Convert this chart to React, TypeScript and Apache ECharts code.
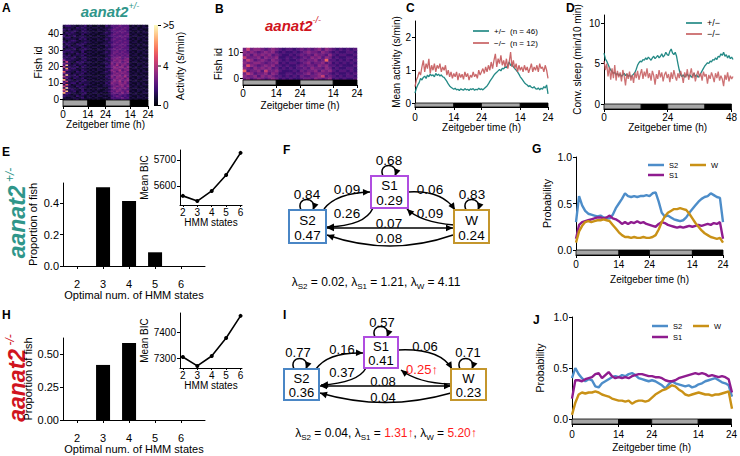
import React, { useEffect, useRef } from "react";
import * as echarts from "echarts";

const FONT = '"Liberation Sans", Arial, Helvetica, sans-serif';
const BLACK = "#000";
const TEAL = "#17837e";
const RED = "#c4585a";
const C_S2 = "#4d8dc9";
const C_S1 = "#8f1c8f";
const C_W = "#c99116";

// light (0) / dark (1) periods over two days, in Zeitgeber hours
const lightDark = [
  [0, 14, 0],
  [14, 24, 1],
  [24, 38, 0],
  [38, 48, 1],
];
const ztTicks = [0, 14, 24, 38, 48];
const ztTicksD = [0, 24, 48];

// per-fish activity, 1.5 h bins (hex digit = activity level 0..15), fish 0 first
const heatHet = [
  "12212312211212111234334432121121",
  "21122123122121122143445341212212",
  "32221322121212211234543432112121",
  "23212213212112122244354431221211",
  "c3322122311221211245546452121122",
  "5d223123222121122354655461212121",
  "a2232213121212112245564542112212",
  "2e322132212112211356455641221121",
  "83221323211221122245656462121211",
  "2a312221322112122355466551212122",
  "52233132221211213265565642112121",
  "38222313222122122356574651221211",
  "c2321222311211212246565562121122",
  "25213223122112122355656461212121",
  "73322312211221213264665742112212",
  "2d223132222112112356564651221121",
  "53312223121211222245656552121211",
  "a2221322312121123256465641212122",
  "35322213221212212365574562112121",
  "2c233122212112122246655651221211",
  "72322313221221213356566462121122",
  "3d223122312112112355746551212121",
  "53312232121211223264655642112212",
  "28221323222121122255564561221121",
  "63322122311212212346565652121211",
  "32232213222112123255654561212122",
  "23223122311221212245564542112121",
  "32312223122112112354545451221211",
  "21221322311211222245454542121122",
  "32232213122121123245545441212121",
  "23322123211212212244544532112212",
  "12223122322112122345454441221121",
  "31232213221221212234545442121211",
  "22312232122112113244454531212122",
  "13221323211211222245445442112121",
  "32322122322121122334544541221211",
  "21233212221212212244454442121122",
  "12222132312112123245444531212121",
  "23312223221221212234545442112212",
  "31223122212112112344454541221121",
  "22322213121211222245444452121211",
  "13232122322121123234545441212122",
  "21223213221212212244454532112121",
  "32312222312112122345445441221211",
  "12221323221221212234544542121122",
  "23322122312112113244454441212121",
];
const heatMut = [
  "56456545653434334554654563434334",
  "65564656544343435445568454343443",
  "58645564653344344564565543433434",
  "a4556485564333435455646564344343",
  "65465656453434344546554653433443",
  "59654565644343345455465644343334",
  "65566545563434434564556453434343",
  "58645654654343345455645a44343434",
  "85556465563343434546564653433443",
  "56465656454334345454655464344334",
  "65654565643433434565546543433443",
  "58566545654344345454564654343434",
];

// mean activity (s/min), 0.5 h steps from ZT0
const actHet = [
  0.3, 0.45, 0.55, 0.62, 0.75, 0.7, 0.78, 0.82, 0.75, 0.85,
  0.8, 0.88, 0.83, 0.86, 0.8, 0.9, 0.84, 0.88, 0.82, 0.86,
  0.8, 0.78, 0.72, 0.66, 0.58, 0.52, 0.48, 0.45, 0.42, 0.45,
  0.4, 0.42, 0.38, 0.43, 0.41, 0.39, 0.44, 0.4, 0.42, 0.38,
  0.43, 0.41, 0.44, 0.39, 0.42, 0.4, 0.45, 0.41, 0.43, 0.4,
  0.44, 0.48, 0.52, 0.58, 0.66, 0.72, 0.78, 0.85, 0.9, 0.94,
  0.98, 1.02, 0.98, 1.06, 1.04, 1.1, 1.08, 1.16, 1.25, 1.14,
  1.18, 1.1, 1.05, 1.0, 0.95, 0.88, 0.8, 0.74, 0.68, 0.62,
  0.58, 0.55, 0.5, 0.53, 0.48, 0.46, 0.5, 0.44, 0.42, 0.46,
  0.4, 0.45, 0.42, 0.5, 0.46, 0.55, 0.28,
];
const actMut = [
  0.5, 0.7, 0.8, 0.95, 0.85, 1.1, 1.3, 0.95, 1.2, 1.05,
  1.35, 0.9, 1.15, 1.0, 1.2, 0.95, 1.15, 1.05, 1.2, 0.95,
  1.1, 1.0, 1.15, 0.85, 1.0, 0.8, 0.95, 0.75, 0.9, 0.8,
  0.95, 0.7, 0.9, 0.78, 0.88, 0.72, 0.95, 0.8, 0.9, 0.7,
  0.85, 0.78, 0.95, 0.8, 0.88, 0.75, 1.0, 0.85, 0.95, 1.05,
  0.9, 1.1, 0.95, 1.15, 1.0, 1.25, 1.05, 1.3, 1.5, 1.1,
  1.35, 1.2, 1.45, 1.15, 1.3, 1.1, 1.35, 1.05, 1.25, 1.55,
  1.1, 1.3, 1.05, 1.2, 0.95, 1.15, 1.0, 1.1, 0.95, 1.15,
  1.0, 1.1, 0.92, 1.05, 1.2, 0.95, 1.1, 1.0, 1.15, 0.95,
  1.2, 1.05, 1.1, 0.95, 1.15, 1.0, 0.75,
];

// conventional sleep (min/10 min), 0.5 h steps from ZT0
const sleepHet = [
  6.3, 5.6, 5.3, 4.9, 4.5, 4.2, 4.0, 3.8, 3.9, 3.6,
  3.8, 3.5, 3.7, 3.4, 3.6, 3.8, 3.5, 3.7, 3.4, 3.6,
  3.3, 3.5, 3.7, 3.9, 4.3, 4.8, 5.1, 5.3, 5.2, 5.5,
  5.4, 5.7, 5.5, 5.8, 5.6, 5.4, 5.7, 5.9, 5.6, 5.8,
  6.0, 5.7, 5.9, 6.2, 5.8, 6.0, 6.4, 6.1, 6.0, 6.5,
  6.8, 6.3, 6.1, 6.4, 5.9, 5.0, 4.2, 3.6, 3.4, 3.6,
  3.3, 3.5, 3.7, 3.4, 3.6, 3.3, 3.5, 3.8, 3.4, 3.6,
  3.3, 3.5, 3.8, 4.1, 4.4, 4.7, 4.9, 5.1, 5.0, 5.3,
  5.2, 5.5, 5.4, 5.7, 5.5, 5.9, 5.8, 6.2, 6.0, 6.4,
  5.9, 6.1, 5.7, 6.0, 5.6, 5.8, 5.5,
];
const sleepMut = [
  5.3, 4.2, 5.0, 3.4, 4.6, 3.0, 4.4, 3.2, 4.8, 2.9,
  4.1, 3.3, 3.9, 2.8, 4.2, 3.5, 2.3, 3.8, 3.1, 4.0,
  2.9, 3.6, 2.6, 3.9, 3.2, 4.1, 3.0, 3.7, 4.3, 3.1,
  4.0, 3.4, 4.4, 3.2, 3.8, 2.9, 4.1, 3.5, 2.4, 3.7,
  3.1, 4.2, 3.3, 3.9, 2.8, 3.6, 4.0, 3.2, 3.7, 2.7,
  3.9, 3.1, 4.2, 3.4, 2.9, 3.8, 3.2, 4.1, 3.5, 2.6,
  3.9, 3.3, 4.3, 3.0, 3.7, 4.4, 3.2, 3.9, 2.8, 3.6,
  4.1, 3.3, 3.8, 2.9, 4.0, 3.4, 3.7, 2.5, 3.6, 3.1,
  3.9, 3.4, 2.7, 3.8, 3.2, 4.0, 2.9, 3.5, 3.1, 2.2,
  3.6, 3.0, 3.9, 2.8, 3.5, 3.1, 3.4,
];

// optimal number of HMM states and mean BIC
const hmmStates = [2, 3, 4, 5, 6];
const propHet = [0, 0.5, 0.413, 0.087, 0];
const propMut = [0, 0.417, 0.583, 0, 0];
const bicHet = [5562, 5542, 5581, 5642, 5727];
const bicMut = [7304, 7270, 7308, 7377, 7462];

// state probabilities, hourly from ZT0
const pS2Het = [
  0.3, 0.58, 0.48, 0.42, 0.39, 0.38, 0.37, 0.36, 0.37, 0.35,
  0.34, 0.34, 0.38, 0.45, 0.5, 0.55, 0.61, 0.58, 0.57, 0.58,
  0.57, 0.58, 0.58, 0.59, 0.58, 0.61, 0.62, 0.52, 0.4, 0.36,
  0.37, 0.35, 0.33, 0.32, 0.31, 0.32, 0.35, 0.4, 0.44, 0.48,
  0.52, 0.55, 0.57, 0.58, 0.61, 0.59, 0.57, 0.56, 0.3,
];
const pS1Het = [
  0.12, 0.27, 0.3, 0.31, 0.32, 0.33, 0.34, 0.35, 0.35, 0.34,
  0.35, 0.37, 0.34, 0.33, 0.31, 0.28, 0.3, 0.28, 0.3, 0.29,
  0.31, 0.29, 0.3, 0.28, 0.27, 0.26, 0.25, 0.28, 0.3, 0.29,
  0.27, 0.26, 0.25, 0.24, 0.25, 0.24, 0.25, 0.26, 0.25, 0.26,
  0.27, 0.26, 0.27, 0.28, 0.27, 0.29, 0.28, 0.3, 0.12,
];
const pWHet = [
  0.08, 0.2, 0.26, 0.3, 0.31, 0.3, 0.31, 0.32, 0.32, 0.33,
  0.32, 0.31, 0.27, 0.23, 0.19, 0.16, 0.14, 0.14, 0.13, 0.14,
  0.13, 0.13, 0.14, 0.13, 0.13, 0.14, 0.16, 0.22, 0.3, 0.36,
  0.4, 0.42, 0.44, 0.44, 0.45, 0.44, 0.43, 0.39, 0.34, 0.29,
  0.25, 0.21, 0.18, 0.16, 0.14, 0.13, 0.12, 0.13, 0.08,
];
const pS2Mut = [
  0.4, 0.5, 0.44, 0.4, 0.37, 0.39, 0.38, 0.32, 0.31, 0.35,
  0.37, 0.39, 0.41, 0.42, 0.41, 0.43, 0.42, 0.44, 0.45, 0.43,
  0.4, 0.39, 0.38, 0.37, 0.38, 0.37, 0.35, 0.33, 0.3, 0.34,
  0.37, 0.35, 0.34, 0.33, 0.32, 0.33, 0.31, 0.32, 0.34, 0.35,
  0.37, 0.38, 0.39, 0.4, 0.38, 0.36, 0.35, 0.33, 0.22,
];
const pS1Mut = [
  0.2, 0.38, 0.38, 0.37, 0.39, 0.4, 0.41, 0.44, 0.45, 0.4,
  0.43, 0.46, 0.42, 0.4, 0.41, 0.4, 0.41, 0.4, 0.42, 0.43,
  0.44, 0.44, 0.43, 0.42, 0.42, 0.41, 0.41, 0.4, 0.38, 0.37,
  0.37, 0.38, 0.4, 0.41, 0.42, 0.43, 0.44, 0.45, 0.44, 0.45,
  0.44, 0.42, 0.43, 0.42, 0.41, 0.42, 0.41, 0.39, 0.26,
];
const pWMut = [
  0.04, 0.16, 0.24, 0.26, 0.25, 0.26, 0.26, 0.27, 0.26, 0.24,
  0.23, 0.22, 0.2, 0.19, 0.18, 0.18, 0.17, 0.18, 0.15, 0.17,
  0.18, 0.18, 0.17, 0.18, 0.21, 0.24, 0.26, 0.28, 0.29, 0.31,
  0.33, 0.32, 0.29, 0.27, 0.24, 0.23, 0.24, 0.25, 0.26, 0.25,
  0.24, 0.24, 0.23, 0.24, 0.24, 0.25, 0.26, 0.27, 0.1,
];

const MAGMA = [
  "#000004", "#140e36", "#3b0f70", "#641a80", "#8c2981", "#b73779",
  "#de4968", "#f7705c", "#fe9f6d", "#fecf92", "#fcfdbf",
];

const HEAT_COLS = 32;

function heatCells(rows: string[]) {
  const out: number[][] = [];
  rows.forEach((row, y) => {
    for (let x = 0; x < HEAT_COLS; x++) out.push([x, y, parseInt(row[x] || "0", 16)]);
  });
  return out;
}

const series = (vals: number[], step: number) => vals.map((v, i) => [i * step, v]);

const txt = (fontSize = 10) => ({ color: BLACK, fontFamily: FONT, fontSize });

function timeX(gridIndex: number, ticks: number[], twoClock: boolean, margin: number, nameGap: number) {
  return {
    type: "value", gridIndex, min: 0, max: 48,
    splitLine: { show: false },
    axisLine: { show: true, lineStyle: { color: BLACK, width: 1 } },
    axisTick: { show: true, length: 3, customValues: ticks, lineStyle: { color: BLACK } },
    axisLabel: {
      customValues: ticks, margin, ...txt(10),
      formatter: (v: number) => String(twoClock && v > 24 ? v - 24 : v),
    },
    name: "Zeitgeber time (h)", nameLocation: "middle", nameGap, nameTextStyle: txt(10),
  };
}

function valAxis(gridIndex: number, min: number, max: number, ticks: number[], fmt: (v: number) => string,
  name: string, nameGap: number, fontSize = 10, margin = 4, tickLen = 3) {
  return {
    type: "value", gridIndex, min, max,
    splitLine: { show: false },
    axisLine: { show: true, lineStyle: { color: BLACK, width: 1 } },
    axisTick: { show: true, length: tickLen, customValues: ticks, lineStyle: { color: BLACK } },
    axisLabel: { customValues: ticks, formatter: fmt, margin, ...txt(fontSize) },
    name, nameLocation: "middle", nameGap, nameTextStyle: txt(fontSize),
  };
}

const hiddenX = (gridIndex: number) => ({ type: "value", gridIndex, min: 0, max: 48, show: false });
const hiddenY01 = (gridIndex: number) => ({ type: "value", gridIndex, min: 0, max: 1, show: false });

function fishY(gridIndex: number, n: number) {
  const every = (i: number) => i % 10 === 0;
  return {
    type: "category", gridIndex, data: Array.from({ length: n }, (_, i) => String(i)),
    axisLine: { show: false },
    axisTick: { show: true, alignWithLabel: true, interval: every, length: 3, lineStyle: { color: BLACK } },
    axisLabel: { interval: every, margin: 4, ...txt(10) },
    name: "Fish id", nameLocation: "middle", nameGap: 19, nameTextStyle: txt(11),
  };
}

function lightDarkSeries(axis: number) {
  return {
    type: "custom", xAxisIndex: axis, yAxisIndex: axis, silent: true,
    data: lightDark,
    encode: { x: [0, 1] },
    renderItem: (_p: any, api: any) => {
      const a = api.coord([api.value(0), 1]);
      const b = api.coord([api.value(1), 0]);
      return {
        type: "rect",
        shape: { x: a[0], y: a[1], width: b[0] - a[0], height: b[1] - a[1] },
        style: { fill: api.value(2) === 0 ? "#a6a6a6" : "#000", stroke: BLACK, lineWidth: 0.8 },
      };
    },
  };
}

const line = (axis: number, data: number[][], color: string, width: number, opacity = 1) => ({
  type: "line", xAxisIndex: axis, yAxisIndex: axis, data, symbol: "none", silent: true,
  lineStyle: { color, width, opacity },
});

const bicLine = (axis: number, vals: number[]) => ({
  type: "line", xAxisIndex: axis, yAxisIndex: axis, silent: true,
  data: hmmStates.map((s, i) => [s, vals[i]]),
  symbol: "circle", symbolSize: 4, itemStyle: { color: BLACK },
  lineStyle: { color: BLACK, width: 1.6 },
});

const propBars = (axis: number, vals: number[]) => ({
  type: "bar", xAxisIndex: axis, yAxisIndex: axis, silent: true, barWidth: 14,
  data: hmmStates.map((s, i) => [s, vals[i]]),
  itemStyle: { color: BLACK },
});

// ---------- graphic helpers ----------
type P = [number, number];

const text = (x: number, y: number, s: string, fontSize: number, extra: any = {}) => ({
  type: "text", x, y, silent: true,
  style: {
    text: s, fontSize, fontFamily: FONT, fill: extra.fill || BLACK,
    fontWeight: extra.fontWeight || "normal", fontStyle: extra.fontStyle || "normal",
    align: extra.align || "center", verticalAlign: "middle",
    textAlign: extra.align || "center", textVerticalAlign: "middle",
    rich: extra.rich,
  },
  rotation: extra.rotation || 0,
});

const head = (tip: P, from: P, fill = BLACK) => {
  const dx = tip[0] - from[0], dy = tip[1] - from[1];
  const l = Math.hypot(dx, dy) || 1;
  const ux = dx / l, uy = dy / l;
  const L = 7, W = 3.3;
  const bx = tip[0] - ux * L, by = tip[1] - uy * L;
  return {
    type: "polygon", silent: true,
    shape: { points: [[tip[0], tip[1]], [bx - uy * W, by + ux * W], [bx + uy * W, by - ux * W]] },
    style: { fill },
  };
};
const edgeStyle = { stroke: BLACK, lineWidth: 1.5, fill: "none" };
const arc = (a: P, c: P, b: P, both = false) => {
  const els: any[] = [
    { type: "bezierCurve", silent: true, shape: { x1: a[0], y1: a[1], cpx1: c[0], cpy1: c[1], x2: b[0], y2: b[1] }, style: edgeStyle },
    head(b, c),
  ];
  if (both) els.push(head(a, c));
  return els;
};
const loop = (a: P, c1: P, c2: P, b: P) => [
  { type: "bezierCurve", silent: true, shape: { x1: a[0], y1: a[1], cpx1: c1[0], cpy1: c1[1], cpx2: c2[0], cpy2: c2[1], x2: b[0], y2: b[1] }, style: edgeStyle },
  head(b, c2),
];
const stateBox = (x: number, y: number, w: number, h: number, color: string, name: string, val: string, fs: number) => [
  { type: "rect", silent: true, shape: { x, y, width: w, height: h }, style: { fill: "#fff", stroke: color, lineWidth: 2 } },
  text(x + w / 2, y + h * 0.31, name, fs),
  text(x + w / 2, y + h * 0.76, val, fs),
];

const lambdaRich = {
  n: { fontSize: 12, fontFamily: FONT, fill: BLACK, lineHeight: 16 },
  s: { fontSize: 8, fontFamily: FONT, fill: BLACK, lineHeight: 9, verticalAlign: "bottom" },
  r: { fontSize: 12, fontFamily: FONT, fill: "#ff1a1a", lineHeight: 16 },
};

const superRich = (size: number, sup: number, color: string) => ({
  m: { fontSize: size, fontFamily: FONT, fontStyle: "italic", fontWeight: "bold", fill: color, lineHeight: size + 4 },
  s: { fontSize: sup, fontFamily: FONT, fontStyle: "italic", fill: color, lineHeight: sup + 2, verticalAlign: "top" },
});

const HET_COLOR = "#2f968a";
const MUT_COLOR = "#d0141e";

function legendRow(x: number, y: number, color: string, label: string, width: number, fs: number) {
  return [
    { type: "line", silent: true, shape: { x1: x, y1: y, x2: x + 16, y2: y }, style: { stroke: color, lineWidth: width } },
    text(x + 21, y, label, fs, { align: "left" }),
  ];
}

function buildGraphic() {
  const els: any[] = [];
  // panel letters
  const letters: [string, number, number][] = [
    ["A", 2, 8], ["B", 215, 9], ["C", 406, 8], ["D", 566, 8], ["E", 2, 152],
    ["F", 283, 150], ["G", 532, 149], ["H", 2, 315], ["I", 283, 315], ["J", 533, 320],
  ];
  letters.forEach(([s, x, y]) => els.push(text(x, y, s, 12, { fontWeight: "bold", align: "left" })));

  // genotype titles
  els.push(text(110, 11, "{m|aanat2}{s|+/-}", 15, { rich: superRich(15, 9, HET_COLOR) }));
  els.push(text(293, 25, "{m|aanat2}{s|-/-}", 15, { rich: superRich(15, 9, MUT_COLOR) }));
  els.push(text(17, 213, "{m|aanat2}{s| +/-}", 22, { rich: superRich(23, 12, HET_COLOR), rotation: Math.PI / 2 }));
  els.push(text(17, 378, "{m|aanat2}{s| -/-}", 22, { rich: superRich(23, 12, MUT_COLOR), rotation: Math.PI / 2 }));

  // colour bar for the activity heatmap
  els.push({
    type: "rect", silent: true, shape: { x: 154, y: 25, width: 4, height: 81 },
    style: {
      fill: new echarts.graphic.LinearGradient(0, 1, 0, 0, MAGMA.map((c, i) => ({ offset: i / (MAGMA.length - 1), color: c }))),
    },
  });
  [[25.5, ">5"], [66, "4"], [105.5, "0"]].forEach(([y, s]: any) => {
    els.push({ type: "line", silent: true, shape: { x1: 158, y1: y, x2: 161, y2: y }, style: { stroke: BLACK, lineWidth: 1 } });
    els.push(text(163, y, s, 10, { align: "left" }));
  });
  els.push(text(180, 66, "Activity (s/min)", 10.5, { rotation: Math.PI / 2 }));

  // legends
  els.push(...legendRow(473, 31, TEAL, "+/\u2212  (n = 46)", 1.6, 8));
  els.push(...legendRow(473, 43, RED, "\u2212/\u2212  (n = 12)", 1.6, 8));
  els.push(...legendRow(686, 23, TEAL, "+/\u2212", 1.6, 9));
  els.push(...legendRow(686, 34, RED, "\u2212/\u2212", 1.6, 9));
  els.push(...legendRow(648, 165, C_S2, "S2", 2.5, 7.5));
  els.push(...legendRow(690, 165, C_W, "W", 2.5, 7.5));
  els.push(...legendRow(648, 175, C_S1, "S1", 2.5, 7.5));
  els.push(...legendRow(652, 326, C_S2, "S2", 2.5, 7.5));
  els.push(...legendRow(693, 326, C_W, "W", 2.5, 7.5));
  els.push(...legendRow(652, 337, C_S1, "S1", 2.5, 7.5));

  // transition diagram, aanat2 +/-
  els.push(...loop([301, 210], [295, 196], [318, 196], [313, 210]));
  els.push(...loop([383, 176], [377, 162], [400, 162], [395, 176]));
  els.push(...loop([466, 210], [460, 196], [483, 196], [478, 210]));
  els.push(...arc([324, 209], [336, 193], [370, 192]));
  els.push(...arc([373, 208], [365, 226], [327, 227]));
  els.push(...arc([408, 192], [442, 190], [455, 210]));
  els.push(...arc([454, 225], [420, 222], [407, 209]));
  els.push(...arc([327, 228], [390, 228], [453, 228], true));
  els.push(...arc([453, 235], [390, 257], [327, 235]));
  els.push(...stateBox(289, 210, 37, 33, "#4a86c5", "S2", "0.47", 13.5));
  els.push(...stateBox(371, 176, 37, 32, "#b04de0", "S1", "0.29", 13.5));
  els.push(...stateBox(454, 210, 35, 33, "#c4962c", "W", "0.24", 13.5));
  ([[307, 194, "0.84"], [389, 160, "0.68"], [472, 194, "0.83"], [347, 189, "0.09"], [430, 189, "0.06"],
    [347, 213, "0.26"], [430, 213, "0.09"], [389, 223, "0.07"], [389, 238, "0.08"]] as any[]).forEach(([x, y, s]) =>
    els.push(text(x, y, s, 13.5)));
  els.push(text(376, 282, "{n|\u03bb}{s|S2}{n| = 0.02, \u03bb}{s|S1}{n| = 1.21, \u03bb}{s|W}{n| = 4.11}", 12, { rich: lambdaRich }));

  // transition diagram, aanat2 -/-
  els.push(...loop([294, 369], [288, 355], [311, 355], [306, 369]));
  els.push(...loop([375, 337], [369, 323], [392, 323], [387, 337]));
  els.push(...loop([460, 369], [454, 355], [477, 355], [472, 369]));
  els.push(...arc([316, 369], [328, 352], [363, 353]));
  els.push(...arc([366, 368], [358, 383], [321, 385]));
  els.push(...arc([398, 350], [440, 348], [452, 369]));
  els.push(...arc([450, 384], [418, 383], [401, 370]));
  els.push(...arc([320, 386], [385, 386], [451, 386], true));
  els.push(...arc([451, 393], [385, 412], [320, 393]));
  els.push(...stateBox(284, 369, 35, 31, "#4a86c5", "S2", "0.36", 13));
  els.push(...stateBox(364, 337, 34, 31, "#b04de0", "S1", "0.41", 13));
  els.push(...stateBox(451, 369, 35, 31, "#c4962c", "W", "0.23", 13));
  ([[298, 352, "0.77"], [382, 322, "0.57"], [468, 352, "0.71"], [342, 349, "0.16"], [425, 346, "0.06"],
    [342, 372, "0.37"], [383, 381, "0.08"], [383, 397, "0.04"]] as any[]).forEach(([x, y, s]) =>
    els.push(text(x, y, s, 13)));
  els.push(text(422, 369, "0.25\u2191", 13, { fill: "#ff1a1a" }));
  els.push(text(386, 433, "{n|\u03bb}{s|S2}{n| = 0.04, \u03bb}{s|S1}{n| = }{r|1.31\u2191}{n|, \u03bb}{s|W}{n| = }{r|5.20\u2191}", 12, { rich: lambdaRich }));

  return els;
}

function buildOption() {
  const grids = [
    { left: 63, top: 25, width: 85, height: 75 },    // 0 A heatmap
    { left: 63, top: 100, width: 85, height: 6 },    // 1 A light/dark
    { left: 243, top: 48, width: 114, height: 32 },  // 2 B heatmap
    { left: 243, top: 80, width: 114, height: 5 },   // 3 B light/dark
    { left: 415, top: 21, width: 133, height: 82 },  // 4 C
    { left: 415, top: 103, width: 133, height: 4 },  // 5 C light/dark
    { left: 604, top: 15, width: 129, height: 89 },  // 6 D
    { left: 604, top: 104, width: 129, height: 5 },  // 7 D light/dark
    { left: 63, top: 183, width: 142, height: 83 },  // 8 E bars
    { left: 180, top: 150, width: 62, height: 55 },  // 9 E BIC
    { left: 576, top: 157, width: 147, height: 93 }, // 10 G
    { left: 576, top: 250, width: 147, height: 5 },  // 11 G light/dark
    { left: 63, top: 338, width: 142, height: 82 },  // 12 H bars
    { left: 180, top: 313, width: 62, height: 55 },  // 13 H BIC
    { left: 572, top: 317, width: 160, height: 102 },// 14 J
    { left: 572, top: 419, width: 160, height: 5 },  // 15 J light/dark
  ];
  const cols = Array.from({ length: HEAT_COLS }, (_, i) => String(i));
  const f1 = (v: number) => v.toFixed(1);
  const f2 = (v: number) => v.toFixed(2);
  const fi = (v: number) => String(v);

  const xAxis = [
    { type: "category", gridIndex: 0, data: cols, show: false },
    timeX(1, ztTicks, true, 3, 13),
    { type: "category", gridIndex: 2, data: cols, show: false },
    timeX(3, ztTicks, true, 3, 15),
    hiddenX(4),
    timeX(5, ztTicks, true, 5, 15),
    hiddenX(6),
    timeX(7, ztTicksD, false, 3, 13),
    valAxis(8, 1.46, 6.92, hmmStates, fi, "Optimal num. of HMM states", 22, 11, 12),
    valAxis(9, 1.8, 6.1, hmmStates, fi, "HMM states", 11, 10, 2, 2),
    hiddenX(10),
    timeX(11, ztTicks, true, 4, 19),
    valAxis(12, 1.46, 6.92, hmmStates, fi, "Optimal num. of HMM states", 21, 11, 12),
    valAxis(13, 1.8, 6.1, hmmStates, fi, "HMM states", 11, 10, 2, 2),
    hiddenX(14),
    timeX(15, ztTicks, true, 5, 18),
  ];
  const yAxis = [
    fishY(0, heatHet.length),
    hiddenY01(1),
    fishY(2, heatMut.length),
    hiddenY01(3),
    valAxis(4, 0, 2.5, [0, 1, 2], fi, "Mean activity (s/min)", 9, 10),
    hiddenY01(5),
    valAxis(6, 0, 11, [0, 5, 10], fi, "Conv. sleep (min/10 min)", 22, 10),
    hiddenY01(7),
    valAxis(8, 0, 0.527, [0, 0.2, 0.4], f1, "Proportion of fish", 25, 11),
    valAxis(9, 5527, 5738, [5600, 5700], fi, "Mean BIC", 26, 10),
    valAxis(10, 0, 1, [0, 0.5, 1], f1, "Probability", 24, 10.5),
    hiddenY01(11),
    valAxis(12, 0, 0.621, [0, 0.25, 0.5], f2, "Proportion of fish", 30, 11),
    valAxis(13, 7262, 7473, [7300, 7400], fi, "Mean BIC", 26, 10),
    valAxis(14, 0, 1, [0, 0.5, 1], f1, "Probability", 27, 10.5),
    hiddenY01(15),
  ];

  const seriesList: any[] = [
    { type: "heatmap", xAxisIndex: 0, yAxisIndex: 0, data: heatCells(heatHet), silent: true, emphasis: { disabled: true } },
    { type: "heatmap", xAxisIndex: 2, yAxisIndex: 2, data: heatCells(heatMut), silent: true, emphasis: { disabled: true } },
    lightDarkSeries(1),
    lightDarkSeries(3),
    line(4, series(actHet, 0.5), TEAL, 1.3, 0.95),
    line(4, series(actMut, 0.5), RED, 1.3, 0.9),
    lightDarkSeries(5),
    line(6, series(sleepHet, 0.5), TEAL, 1.3, 0.95),
    line(6, series(sleepMut, 0.5), RED, 1.3, 0.85),
    lightDarkSeries(7),
    propBars(8, propHet),
    bicLine(9, bicHet),
    line(10, series(pS2Het, 1), C_S2, 2.4),
    line(10, series(pS1Het, 1), C_S1, 2.4),
    line(10, series(pWHet, 1), C_W, 2.4),
    lightDarkSeries(11),
    propBars(12, propMut),
    bicLine(13, bicMut),
    line(14, series(pS2Mut, 1), C_S2, 2.4),
    line(14, series(pS1Mut, 1), C_S1, 2.4),
    line(14, series(pWMut, 1), C_W, 2.4),
    lightDarkSeries(15),
  ];

  return {
    animation: false,
    backgroundColor: "#fff",
    textStyle: { fontFamily: FONT },
    grid: grids,
    xAxis,
    yAxis,
    visualMap: [{ type: "continuous", show: false, seriesIndex: [0, 1], min: 0, max: 15, inRange: { color: MAGMA } }],
    series: seriesList,
    graphic: { elements: buildGraphic() },
  };
}

export default function App() {
  const ref = useRef<HTMLDivElement>(null);
  useEffect(() => {
    if (!ref.current) return;
    const chart = echarts.init(ref.current, undefined, { renderer: "svg" });
    chart.setOption(buildOption() as any);
    return () => chart.dispose();
  }, []);
  return (
    <div
      ref={ref}
      style={{ position: "absolute", left: 0, top: 0, width: 740, height: 456, background: "#fff" }}
    />
  );
}
